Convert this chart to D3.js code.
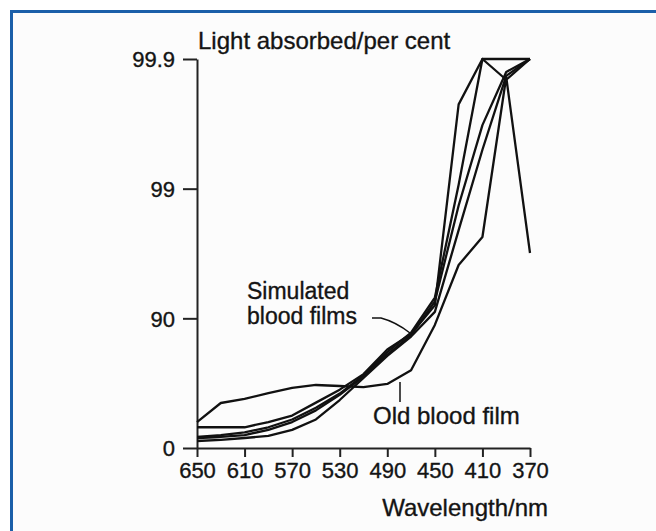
<!DOCTYPE html>
<meta charset="utf-8">
<head>
  <title>Light absorbed by blood films</title>
</head>
<style>
body {
  margin: 0;
  background: #fff;
  font-family: "Liberation Sans", Arial, Helvetica, sans-serif;
}
svg text { fill: #141414; stroke: #141414; stroke-width: 0.35px; }
</style>
<body>
  <div id="content"></div>
  <script src="https://cdnjs.cloudflare.com/ajax/libs/d3/7.8.5/d3.min.js"></script>
  <script>

// wavelengths (nm), one reading every 20 nm
var wavelengths = [650, 630, 610, 590, 570, 550, 530, 510, 490, 470, 450, 430, 410, 390, 370];

// absorbance (0 = 0%, 1 = 90%, 2 = 99%, 3 = 99.9% absorbed)
var simulated1 = [0.16, 0.16, 0.16, 0.20, 0.25, 0.35, 0.45, 0.57, 0.76, 0.88, 1.10, 2.65, 3.0, 3.0, 3.0];
var simulated2 = [0.085, 0.10, 0.12, 0.16, 0.22, 0.31, 0.42, 0.56, 0.74, 0.89, 1.16, 2.03, 3.0, 2.84, 3.0];
var simulated3 = [0.077, 0.085, 0.10, 0.14, 0.20, 0.29, 0.41, 0.55, 0.72, 0.87, 1.13, 1.87, 2.49, 2.90, 3.0];
var simulated4 = [0.054, 0.062, 0.077, 0.093, 0.14, 0.22, 0.37, 0.54, 0.71, 0.86, 1.05, 1.68, 2.30, 2.87, 3.0];
var oldFilm = [0.20, 0.347, 0.378, 0.424, 0.463, 0.486, 0.478, 0.47, 0.494, 0.60, 0.949, 1.411, 1.627, 2.861, 1.504];

var xTicks = [650, 610, 570, 530, 490, 450, 410, 370];
var yTicks = [0, 1, 2, 3];
var yTickLabels = ['0', '90', '99', '99.9'];

var series = [simulated1, simulated2, simulated3, simulated4, oldFilm];

var width = 656, height = 531;

var svg = d3.select('#content').append('svg')
  .attr('width', width)
  .attr('height', height);

// blue frame running off the right and bottom edge
svg.append('rect')
  .attr('x', 11.5).attr('y', 11.5)
  .attr('width', 700).attr('height', 600)
  .attr('fill', '#fcfcfc')
  .attr('stroke', '#1b5fa9')
  .attr('stroke-width', 3);

var x = d3.scaleLinear().domain([650, 370]).range([197, 530]);
var y = d3.scaleLinear().domain([0, 3]).range([448, 59]);

var yAxis = svg.append('g')
  .attr('transform', 'translate(197,0)')
  .call(d3.axisLeft(y)
    .tickValues(yTicks)
    .tickFormat(function(d, i) { return yTickLabels[i]; })
    .tickSize(14)
    .tickSizeOuter(0)
    .tickPadding(8));

var xAxis = svg.append('g')
  .attr('transform', 'translate(0,448)')
  .call(d3.axisBottom(x)
    .tickValues(xTicks)
    .tickSize(9)
    .tickSizeOuter(0)
    .tickPadding(5));

[yAxis, xAxis].forEach(function(ax) {
  ax.selectAll('path, line').attr('stroke', '#222').attr('stroke-width', 2);
  ax.selectAll('text')
    .style('font-family', '"Liberation Sans", Arial, sans-serif')
    .style('font-size', '22px')
    .attr('fill', '#141414');
});
yAxis.selectAll('text').attr('dy', '0.36em');

var line = d3.line()
  .x(function(d, i) { return x(wavelengths[i]); })
  .y(function(d) { return y(d); });

svg.append('g').selectAll('path')
  .data(series)
  .join('path')
  .attr('d', line)
  .attr('fill', 'none')
  .attr('stroke', '#111')
  .attr('stroke-width', 2.3)
  .attr('stroke-linejoin', 'round');

// axis titles
svg.append('text')
  .attr('x', 198).attr('y', 49)
  .style('font-size', '24px')
  .text('Light absorbed/per cent');

svg.append('text')
  .attr('x', 548).attr('y', 516)
  .attr('text-anchor', 'end')
  .style('font-size', '24px')
  .text('Wavelength/nm');

// annotations
svg.append('text')
  .attr('x', 247).attr('y', 299)
  .style('font-size', '23px')
  .text('Simulated');
svg.append('text')
  .attr('x', 247).attr('y', 324)
  .style('font-size', '23px')
  .text('blood films');

svg.append('path')
  .attr('d', 'M372,318 L381,318 Q396,322 410,333')
  .attr('fill', 'none')
  .attr('stroke', '#111')
  .attr('stroke-width', 1.5);

svg.append('text')
  .attr('x', 373).attr('y', 424)
  .style('font-size', '24px')
  .text('Old blood film');

svg.append('line')
  .attr('x1', 400).attr('x2', 400)
  .attr('y1', 382).attr('y2', 402)
  .attr('stroke', '#111')
  .attr('stroke-width', 1.5);

</script>
</body>
</html>
